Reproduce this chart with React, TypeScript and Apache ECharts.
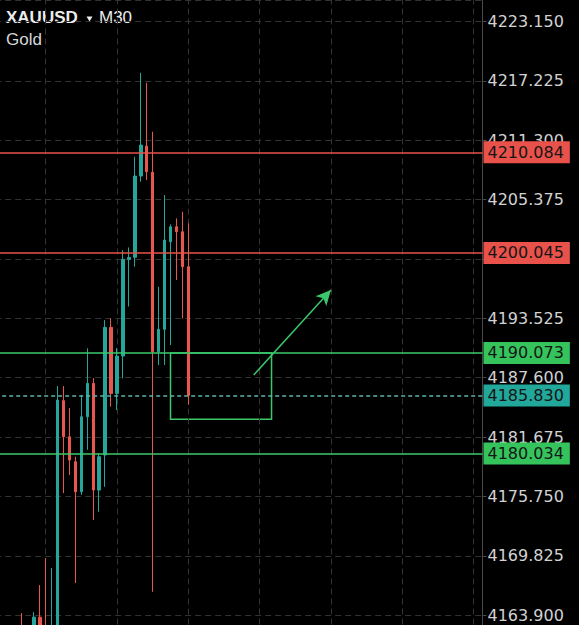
import React, { useEffect, useRef } from 'react';
import * as echarts from 'echarts';

const symbolName = 'XAUUSD';
const timeframe = 'M30';
const instrument = 'Gold';

// candle data, index 0..32 (null = not visible)
const opens = [null, null, null, null, 4161.8, null, 4162.0, 4163.7, 4162.1, 4161.3, 4162.4, 4185.3, 4181.7, 4179.21, 4176.21, 4183.7, 4187.03, 4176.38, 4179.88, 4192.62, 4186.03, 4189.76, 4199.41, 4199.61, 4207.72, 4210.71, 4208.09, 4190.19, 4192.42, 4201.17, 4202.66, 4202.16, 4198.67];
const closes = [null, null, null, null, 4161.2, null, 4163.7, 4162.1, 4161.3, 4162.4, 4185.37, 4181.7, 4179.38, 4176.21, 4183.7, 4187.03, 4176.38, 4179.71, 4192.62, 4186.03, 4189.76, 4199.41, 4199.6, 4207.72, 4210.81, 4208.15, 4190.19, 4192.42, 4201.33, 4202.66, 4202.16, 4198.67, 4185.83];
const lows = [null, null, null, null, 4160.5, null, 4161.5, 4161.6, 4160.6, 4160.8, 4161.9, 4176.08, 4177.88, 4167.1, 4175.9, 4180.4, 4173.39, 4174.22, 4176.71, 4184.7, 4184.37, 4187.53, 4194.7, 4198.67, 4207.15, 4207.32, 4166.23, 4188.86, 4188.86, 4190.85, 4197.34, 4193.52, 4184.9];
const highs = [null, null, null, null, 4164.1, null, 4164.2, 4166.9, 4169.6, 4168.6, 4186.76, 4186.76, 4184.57, 4179.71, 4185.87, 4190.53, 4187.56, 4180.07, 4193.35, 4193.52, 4190.55, 4200.33, 4200.6, 4209.65, 4218.03, 4217.03, 4212.14, 4196.67, 4205.82, 4202.9, 4203.5, 4204.16, 4203.0];

const slotCount = 82;
const categories = Array.from({ length: slotCount }, (_, i) => {
  const t = 6 * 60 + i * 30;
  const day = 20 + Math.floor(t / 1440);
  const m = t % 1440;
  const hh = String(Math.floor(m / 60)).padStart(2, '0');
  const mm = String(m % 60).padStart(2, '0');
  return `11-${day} ${hh}:${mm}`;
});

const resistanceLevels = [4210.084, 4200.045];
const supportLevels = [4190.073, 4180.034];
const lastPrice = 4185.83;
const boxTop = 4190.073;
const boxBottom = 4183.44;
const boxStartIdx = 29;
const boxEndIdx = 46;
const arrowStart = { idx: 43, value: 4187.86 };
const arrowEnd = { idx: 56, value: 4196.35 };
const vGridIdx = [8, 20, 32, 44, 56, 68, 80];

const yMin = 4157.975;
const yMax = 4225.29;
const yStep = 5.925;

const TEAL = '#26a69a';
const RED = '#e8574f';
const GREEN = '#3cc86a';
const LINE_RED = '#e9524a';
const TAG_GREEN = '#35c45c';
const TAG_TEAL = '#22a79b';
const GRID = '#333333';
const LABEL_FONT = 'DejaVu Sans';

function tag(bg: string) {
  return {
    show: true,
    position: 'end',
    distance: 1,
    formatter: (p: any) => Number(p.value).toFixed(3),
    backgroundColor: bg,
    color: '#161616',
    fontFamily: LABEL_FONT,
    fontSize: 16,
    lineHeight: 16,
    padding: [3, 6, 3, 4],
  };
}

export default function App() {
  const ref = useRef<HTMLDivElement>(null);

  useEffect(() => {
    if (!ref.current) return;
    const chart = echarts.init(ref.current, null, { renderer: 'svg' });

    const candleData = opens.map((o, i) =>
      o == null ? '-' : [o, closes[i], lows[i], highs[i]]
    );

    const hLines: any[] = [
      ...resistanceLevels.map((v) => ({
        yAxis: v,
        lineStyle: { color: LINE_RED, width: 1.5, type: 'solid' },
        label: tag(LINE_RED),
      })),
      ...supportLevels.map((v) => ({
        yAxis: v,
        lineStyle: { color: GREEN, width: 1.5, type: 'solid' },
        label: tag(TAG_GREEN),
      })),
      {
        yAxis: lastPrice,
        lineStyle: { color: '#5fb3aa', width: 1.5, type: [4, 3] },
        label: tag(TAG_TEAL),
      },
      [
        { coord: [categories[arrowStart.idx], arrowStart.value], symbol: 'none' },
        {
          coord: [categories[arrowEnd.idx], arrowEnd.value],
          symbol: 'arrow',
          symbolSize: [11, 15],
          lineStyle: { color: GREEN, width: 1.5, type: 'solid' },
          label: { show: false },
        },
      ],
    ];

    const option: any = {
      animation: false,
      backgroundColor: '#000000',
      grid: {
        left: -4.8,
        right: 96.5,
        top: 0,
        height: 674.5,
        containLabel: false,
        outerBoundsMode: 'none',
      },
      xAxis: {
        type: 'category',
        data: categories,
        boundaryGap: true,
        axisLine: { show: false },
        axisTick: { show: false },
        axisLabel: { show: false },
        splitLine: { show: false },
      },
      yAxis: {
        type: 'value',
        position: 'right',
        scale: true,
        min: yMin,
        max: yMax,
        interval: yStep,
        axisLine: { show: true, lineStyle: { color: '#4a4a4a', width: 1 } },
        axisTick: { show: true, length: 4, lineStyle: { color: '#4a4a4a' } },
        axisLabel: {
          show: true,
          margin: 5,
          showMinLabel: false,
          showMaxLabel: false,
          color: '#d2d2d2',
          fontFamily: LABEL_FONT,
          fontSize: 16,
          formatter: (v: number) => v.toFixed(3),
        },
        splitLine: { show: true, lineStyle: { color: GRID, width: 1, type: [6, 4] } },
      },
      graphic: [
        {
          type: 'text',
          left: 6,
          top: 9,
          style: {
            text: symbolName,
            fill: '#ececec',
            font: 'bold 17px "Liberation Sans"',
          },
        },
        {
          type: 'polygon',
          shape: { points: [[86.5, 16.5], [92.5, 16.5], [89.5, 21.5]] },
          style: { fill: '#ececec' },
        },
        {
          type: 'text',
          left: 99,
          top: 9,
          style: { text: timeframe, fill: '#ececec', font: '17px "Liberation Sans"' },
        },
        {
          type: 'text',
          left: 6,
          top: 31,
          style: { text: instrument, fill: '#d6d6d6', font: '17px "Liberation Sans"' },
        },
      ],
      series: [
        {
          type: 'line',
          data: [],
          z: 1,
          silent: true,
          markLine: {
            z: 1,
            silent: true,
            symbol: ['none', 'none'],
            label: { show: false },
            lineStyle: { color: GRID, width: 1, type: [6, 4] },
            data: vGridIdx.map((i) => ({ xAxis: categories[i] })),
          },
        },
        {
          type: 'candlestick',
          data: candleData,
          barWidth: 3,
          z: 2,
          itemStyle: {
            color: TEAL,
            color0: RED,
            borderColor: TEAL,
            borderColor0: RED,
            borderWidth: 1,
          },
          markArea: {
            silent: true,
            itemStyle: { color: 'rgba(0,0,0,0)', borderColor: GREEN, borderWidth: 1.5 },
            data: [
              [
                { xAxis: categories[boxStartIdx], yAxis: boxTop },
                { xAxis: categories[boxEndIdx], yAxis: boxBottom },
              ],
            ],
          },
          markLine: {
            silent: true,
            z: 5,
            symbol: ['none', 'none'],
            precision: 3,
            data: hLines,
          },
        },
      ],
    };

    chart.setOption(option);
    return () => chart.dispose();
  }, []);

  return (
    <div
      ref={ref}
      style={{ position: 'fixed', left: 0, top: 0, width: 579, height: 625, background: '#000' }}
    />
  );
}
